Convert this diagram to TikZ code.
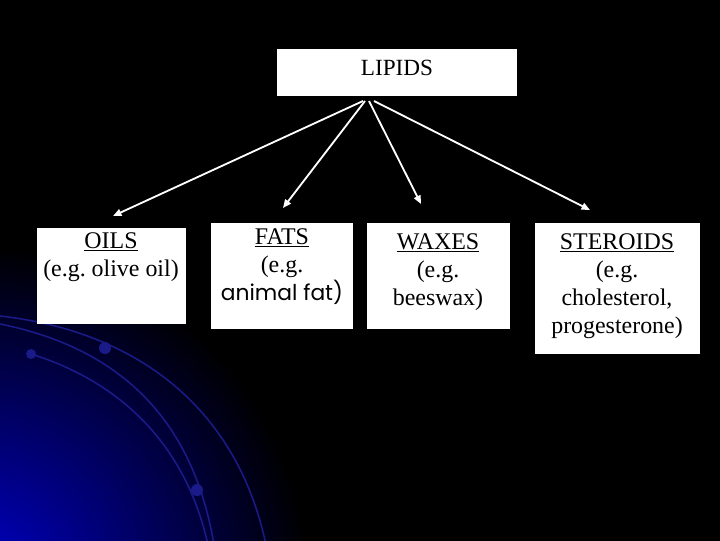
\documentclass[tikz,border=0pt]{standalone}
\usepackage{fontspec}
\setmainfont{Liberation Serif}
\newfontfamily\handfont{Poppins}
\usetikzlibrary{arrows.meta,positioning,calc}
\definecolor{glow}{HTML}{0000CC}
\definecolor{swoosh}{HTML}{1A1A88}
\definecolor{card}{HTML}{FFFFFF}
\frenchspacing

\begin{document}
\begin{tikzpicture}[x=0.025cm,y=-0.025cm,
                    box/.style={fill=card,inner sep=0pt,anchor=north west},
                    txt/.style={font=\fontsize{17}{20}\selectfont,align=center,anchor=north,inner sep=0pt,text=black},
                    branch/.style={draw=white,line width=1.3pt,-{Triangle[length=6pt,width=5pt]}},
                    ring/.style={draw=swoosh,line width=1.1pt}]
  \useasboundingbox (0,0) rectangle (720,540);
  \fill[black] (-10,-10) rectangle (730,550);
  % corner glow
  \begin{scope}
    \clip (-10,-10) rectangle (730,550);
    \shade[inner color=glow,outer color=black] (-30,585) circle (340);
    \draw[ring] (0,316) .. controls (150,333) and (240,420) .. (266,545);
    \draw[ring] (0,324) .. controls (130,350) and (195,430) .. (214,545);
    \draw[ring] (31,354) .. controls (115,380) and (185,440) .. (208,545);
    \fill[swoosh] (105,348) circle (6);
    \fill[swoosh] (31,354) circle (5);
    \fill[swoosh] (197,490) circle (6);
  \end{scope}
  % boxes
  \node[box,minimum width=6cm,minimum height=1.175cm] (lipids) at (277,49) {};
  \node[box,minimum width=3.725cm,minimum height=2.4cm] (oils) at (37,228) {};
  \node[box,minimum width=3.55cm,minimum height=2.65cm] (fats) at (211,223) {};
  \node[box,minimum width=3.575cm,minimum height=2.65cm] (waxes) at (367,223) {};
  \node[box,minimum width=4.125cm,minimum height=3.275cm] (steroids) at (535,223) {};
  \node[txt,font=\fontsize{16.5}{19}\selectfont] (lipidstxt) at (397,60) {LIPIDS};
  \node[txt] (oilstxt) at (111,232) {\underline{OILS}\\(e.g. olive oil)};
  \node[txt] (fatstxt) at (282,228) {\underline{FATS}\\(e.g.\\{\handfont\fontsize{15.5}{20}\selectfont animal fat)}};
  \node[txt] (waxestxt) at (438,233) {\underline{WAXES}\\(e.g.\\beeswax)};
  \node[txt] (steroidstxt) at (617,233) {\underline{STEROIDS}\\(e.g.\\cholesterol,\\progesterone)};
  % arrows
  \foreach \nm/\sx/\ex/\ey in {oils/363/113/216, fats/365/283/208, waxes/369/421/204, steroids/374/590/210} {
    \coordinate (from\nm) at (\sx,101);
    \coordinate (to\nm) at (\ex,\ey);
    \draw[branch] (from\nm) -- (to\nm);
  }
\end{tikzpicture}
\end{document}
